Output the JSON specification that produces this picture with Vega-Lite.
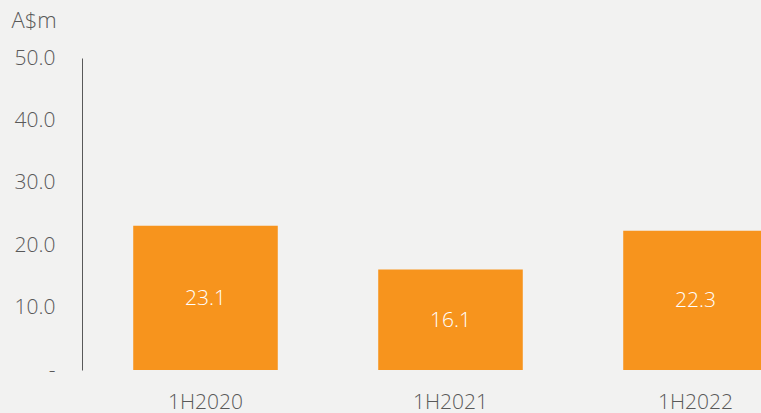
{
  "$schema": "https://vega.github.io/schema/vega-lite/v6.json",
  "autosize": {"type": "none"},
  "width": 679,
  "height": 312,
  "padding": {"left": 82, "top": 58, "right": 0, "bottom": 43},
  "background": "#f2f2f1",
  "config": {
    "view": {"stroke": null},
    "font": "Open Sans"
  },
  "data": {
    "values": [
      {"period": "1H2020", "value": 23.1},
      {"period": "1H2021", "value": 16.1},
      {"period": "1H2022", "value": 22.3}
    ]
  },
  "transform": [{"calculate": "datum.value / 2", "as": "mid"}],
  "encoding": {
    "x": {
      "field": "period",
      "type": "nominal",
      "sort": null,
      "scale": {"range": [1, 736], "paddingInner": 0.41, "paddingOuter": 0.205},
      "axis": {
        "title": null,
        "domain": false,
        "ticks": false,
        "labelAngle": 0,
        "labelFontSize": 21,
        "labelFontWeight": 300,
        "labelColor": "#595959",
        "labelPadding": 32,
        "labelBaseline": "middle"
      }
    }
  },
  "layer": [
    {
      "mark": {"type": "bar", "color": "#f7941d"},
      "encoding": {
        "y": {
          "field": "value",
          "type": "quantitative",
          "scale": {"domain": [0, 50], "nice": false},
          "axis": {
            "values": [0, 10, 20, 30, 40, 50],
            "labelExpr": "datum.value == 0 ? '-  ' : format(datum.value, '.1f')",
            "grid": false,
            "ticks": false,
            "domain": true,
            "domainColor": "#595959",
            "domainWidth": 1,
            "labelFontSize": 21,
            "labelFontWeight": 300,
            "labelColor": "#595959",
            "labelPadding": 27,
            "title": "A$m",
            "titleAngle": 0,
            "titleAlign": "left",
            "titleBaseline": "middle",
            "titleX": -71,
            "titleY": -38,
            "titleFontSize": 22,
            "titleFontWeight": 300,
            "titleColor": "#595959"
          }
        }
      }
    },
    {
      "mark": {"type": "text", "color": "#ffffff", "fontSize": 21, "fontWeight": 300, "baseline": "middle", "dy": 1},
      "encoding": {
        "y": {"field": "mid", "type": "quantitative"},
        "text": {"field": "value", "type": "quantitative", "format": ".1f"}
      }
    }
  ]
}
